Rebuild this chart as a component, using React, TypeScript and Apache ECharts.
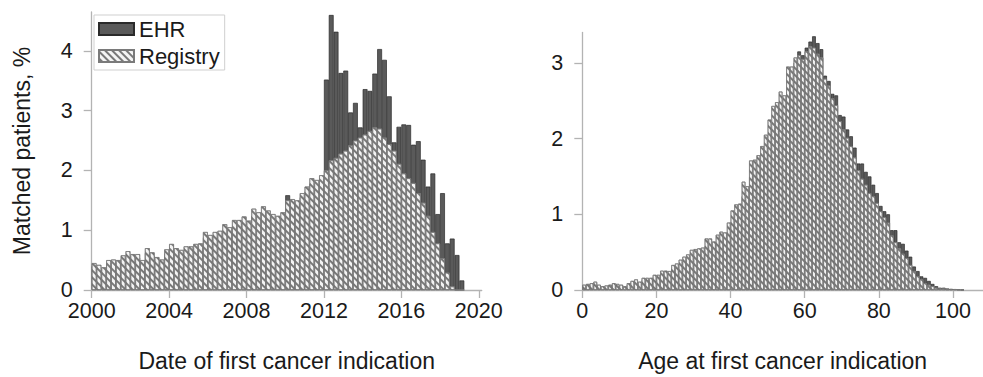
import React, { useEffect, useRef } from 'react';
import * as echarts from 'echarts';

// ---- Data ----
const dateBinStart = 2000;
const dateBinWidth = 0.25; // quarterly bins
const dateEHR = [
  0.40, 0.38, 0.35, 0.45, 0.46, 0.45, 0.52, 0.58, 0.55, 0.54,
  0.46, 0.62, 0.57, 0.50, 0.47, 0.61, 0.69, 0.64, 0.60, 0.66,
  0.66, 0.70, 0.71, 0.88, 0.84, 0.88, 0.90, 1.00, 0.96, 1.06,
  1.07, 1.12, 1.06, 1.24, 1.19, 1.28, 1.22, 1.17, 1.15, 1.22,
  1.585, 1.45, 1.44, 1.55, 1.65, 1.78, 1.76, 1.85,
  3.52, 4.60, 4.32, 3.63, 3.67, 2.97, 3.13, 2.72, 3.36, 3.33,
  3.62, 4.03, 3.85, 3.24, 2.47, 2.73, 2.77, 2.76, 2.43, 2.49,
  2.18, 1.73, 1.95, 1.27, 1.62, 0.78, 0.86, 0.585, 0.16,
];
const dateRegistry = [
  0.45, 0.42, 0.38, 0.50, 0.51, 0.50, 0.58, 0.65, 0.60, 0.60,
  0.50, 0.70, 0.63, 0.55, 0.51, 0.68, 0.77, 0.70, 0.67, 0.73,
  0.73, 0.77, 0.78, 0.97, 0.92, 0.97, 0.99, 1.10, 1.05, 1.17,
  1.17, 1.23, 1.16, 1.36, 1.30, 1.40, 1.33, 1.27, 1.24, 1.30,
  1.50, 1.52, 1.50, 1.62, 1.73, 1.87, 1.84, 1.92,
  2.00, 2.17, 2.21, 2.28, 2.33, 2.42, 2.50, 2.55, 2.60, 2.66,
  2.72, 2.70, 2.55, 2.44, 2.33, 2.11, 1.95, 1.87, 1.79, 1.62,
  1.46, 1.24, 0.97, 0.78, 0.53, 0.29, 0.06, 0, 0,
];
const dateTicks = [2000, 2004, 2008, 2012, 2016, 2020];
const dateYTicks = [0, 1, 2, 3, 4];

const ageBinStart = 0;
const ageBinWidth = 1; // one-year bins
const ageEHR = [
  0.05, 0.06, 0.07, 0.09, 0.05, 0.04, 0.05, 0.06, 0.07, 0.06,
  0.05, 0.04, 0.07, 0.10, 0.11, 0.09, 0.13, 0.13, 0.13, 0.17,
  0.17, 0.21, 0.21, 0.21, 0.28, 0.29, 0.34, 0.37, 0.40, 0.45,
  0.46, 0.47, 0.48, 0.58, 0.58, 0.55, 0.63, 0.66, 0.66, 0.77,
  0.90, 0.98, 0.99, 1.24, 1.19, 1.49, 1.50, 1.56, 1.67, 1.80,
  1.98, 2.14, 2.19, 2.31, 2.27, 2.62, 2.66, 3.00, 3.15, 3.10,
  3.20, 3.28, 3.35, 3.26, 3.18, 2.83, 2.76, 2.59, 2.57, 2.31,
  2.29, 2.12, 2.03, 1.88, 1.67, 1.67, 1.56, 1.50, 1.39, 1.28,
  1.11, 1.04, 1.00, 0.79, 0.79, 0.63, 0.61, 0.52, 0.44, 0.31,
  0.25, 0.18, 0.16, 0.12, 0.08, 0.05, 0.03, 0.03, 0.02, 0.015,
  0.012, 0.01, 0.005,
];
const ageRegistry = [
  0.07, 0.08, 0.09, 0.11, 0.07, 0.05, 0.06, 0.07, 0.09, 0.08,
  0.07, 0.05, 0.09, 0.12, 0.14, 0.11, 0.16, 0.16, 0.16, 0.20,
  0.20, 0.255, 0.255, 0.25, 0.33, 0.35, 0.40, 0.44, 0.47, 0.53,
  0.54, 0.55, 0.56, 0.68, 0.68, 0.64, 0.73, 0.77, 0.76, 0.89,
  1.05, 1.13, 1.14, 1.43, 1.37, 1.71, 1.72, 1.78, 1.90, 2.05,
  2.25, 2.43, 2.48, 2.62, 2.57, 2.95, 2.95, 3.07, 3.10, 3.05,
  3.15, 3.22, 3.20, 3.12, 3.07, 2.79, 2.70, 2.53, 2.44, 2.23,
  2.12, 2.01, 1.90, 1.75, 1.58, 1.47, 1.39, 1.28, 1.24, 1.15,
  1.04, 0.96, 0.89, 0.72, 0.63, 0.55, 0.48, 0.42, 0.33, 0.25,
  0.18, 0.14, 0.09, 0.07, 0.05, 0.03, 0.02, 0.02, 0.01, 0.01,
  0.01, 0.005, 0.005,
];
const ageTicks = [0, 20, 40, 60, 80, 100];
const ageYTicks = [0, 1, 2, 3];

const seriesNames = ['EHR', 'Registry'];
const xTitles = ['Date of first cancer indication', 'Age at first cancer indication'];
const yTitle = 'Matched patients, %';

// ---- Layout / style ----
const FONT = '"Liberation Sans", Arial, Helvetica, sans-serif';
const AXIS_COLOR = '#b3b3b3';
const TEXT_COLOR = '#1a1a1a';

const leftGrid = { left: 91.7, top: 12, width: 390, height: 283.7 };
const leftX = { min: 2000, max: 2020.15 };
const leftY = { min: 0, max: 4.65 };
const rightGrid = { left: 582.3, top: 32.5, width: 400.7, height: 263.2 };
const rightX = { min: 0, max: 108.1 };
const rightY = { min: 0, max: 3.4 };

const toPoints = (start: number, width: number, vals: number[]) =>
  vals.map((v, i) => [start + width * (i + 0.5), v]);

const hatch = {
  symbol: 'rect',
  symbolSize: 1,
  dashArrayX: [1, 0],
  dashArrayY: [2, 3],
  rotation: Math.PI / 4,
  color: 'rgba(80,80,80,0.75)',
};

const ehrStyle = { color: '#5a5a5a', borderColor: '#2a2a2a', borderWidth: 0.7 };
const regStyle = { color: '#f4f4f4', borderColor: '#7a7a7a', borderWidth: 0.7, decal: hatch };

function axisCommon() {
  return {
    axisLine: { show: true, onZero: false, lineStyle: { color: AXIS_COLOR, width: 1.3 } },
    axisTick: { show: true, inside: false, length: 8, lineStyle: { color: AXIS_COLOR, width: 1.3 } },
    splitLine: { show: false },
  };
}

const plain = (v: number) => String(v);

export default function App() {
  const ref = useRef<HTMLDivElement>(null);

  useEffect(() => {
    if (!ref.current) return;
    const chart = echarts.init(ref.current, undefined, { renderer: 'svg' });
    const leftBarW = (leftGrid.width * dateBinWidth) / (leftX.max - leftX.min);
    const rightBarW = (rightGrid.width * ageBinWidth) / (rightX.max - rightX.min);

    const labelStyle = { color: TEXT_COLOR, fontSize: 21.5, fontFamily: FONT, formatter: plain };
    const nameStyle = { color: TEXT_COLOR, fontSize: 23, fontFamily: FONT };

    chart.setOption({
      animation: false,
      backgroundColor: '#ffffff',
      legend: {
        data: seriesNames,
        orient: 'vertical',
        left: 94,
        top: 15,
        padding: [3, 5, 3, 4],
        itemGap: 5,
        itemWidth: 35,
        itemHeight: 12,
        borderColor: '#cfcfcf',
        borderWidth: 1,
        backgroundColor: '#ffffff',
        icon: 'rect',
        textStyle: { color: TEXT_COLOR, fontSize: 22, fontFamily: FONT, lineHeight: 22 },
        z: 10,
      },
      grid: [
        { ...leftGrid, containLabel: false },
        { ...rightGrid, containLabel: false },
      ],
      xAxis: [
        {
          type: 'value',
          gridIndex: 0,
          ...leftX,
          ...axisCommon(),
          axisTick: { ...axisCommon().axisTick, customValues: dateTicks },
          axisLabel: { ...labelStyle, margin: 10, customValues: dateTicks },
          name: xTitles[0],
          nameLocation: 'middle',
          nameGap: 59,
          nameTextStyle: nameStyle,
        },
        {
          type: 'value',
          gridIndex: 1,
          ...rightX,
          ...axisCommon(),
          axisTick: { ...axisCommon().axisTick, customValues: ageTicks },
          axisLabel: { ...labelStyle, margin: 10, customValues: ageTicks },
          name: xTitles[1],
          nameLocation: 'middle',
          nameGap: 59,
          nameTextStyle: nameStyle,
        },
      ],
      yAxis: [
        {
          type: 'value',
          gridIndex: 0,
          ...leftY,
          ...axisCommon(),
          axisTick: { ...axisCommon().axisTick, customValues: dateYTicks },
          axisLabel: { ...labelStyle, margin: 19, customValues: dateYTicks },
          name: yTitle,
          nameLocation: 'middle',
          nameGap: 58,
          nameTextStyle: nameStyle,
        },
        {
          type: 'value',
          gridIndex: 1,
          ...rightY,
          ...axisCommon(),
          axisTick: { ...axisCommon().axisTick, customValues: ageYTicks },
          axisLabel: { ...labelStyle, margin: 19, customValues: ageYTicks },
        },
      ],
      series: [
        {
          name: seriesNames[0],
          type: 'bar',
          xAxisIndex: 0,
          yAxisIndex: 0,
          barWidth: leftBarW,
          barGap: '-100%',
          itemStyle: ehrStyle,
          data: toPoints(dateBinStart, dateBinWidth, dateEHR),
        },
        {
          name: seriesNames[1],
          type: 'bar',
          xAxisIndex: 0,
          yAxisIndex: 0,
          barWidth: leftBarW,
          barGap: '-100%',
          itemStyle: regStyle,
          data: toPoints(dateBinStart, dateBinWidth, dateRegistry),
        },
        {
          name: seriesNames[0],
          type: 'bar',
          xAxisIndex: 1,
          yAxisIndex: 1,
          barWidth: rightBarW,
          barGap: '-100%',
          itemStyle: ehrStyle,
          data: toPoints(ageBinStart, ageBinWidth, ageEHR),
        },
        {
          name: seriesNames[1],
          type: 'bar',
          xAxisIndex: 1,
          yAxisIndex: 1,
          barWidth: rightBarW,
          barGap: '-100%',
          itemStyle: regStyle,
          data: toPoints(ageBinStart, ageBinWidth, ageRegistry),
        },
      ],
    });

    return () => chart.dispose();
  }, []);

  return (
    <div
      ref={ref}
      style={{ position: 'fixed', left: 0, top: 0, width: 983, height: 377, background: '#fff' }}
    />
  );
}
